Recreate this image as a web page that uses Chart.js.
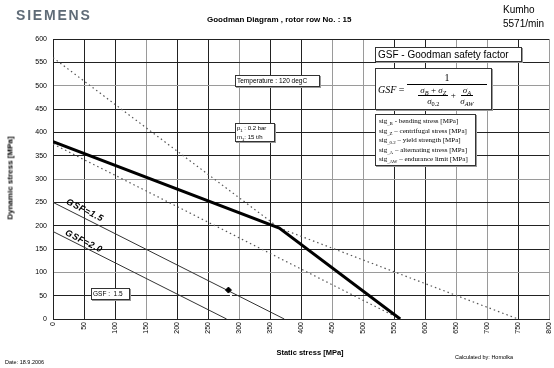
<!DOCTYPE html>
<html>
<head>
<meta charset="utf-8">
<script src="https://cdn.jsdelivr.net/npm/chart.js@4.4.1/dist/chart.umd.min.js"></script>
<style>
  body { margin: 0; background: #fff; }
  #wrap { position: relative; width: 554px; height: 368px; overflow: hidden; font-family: "Liberation Sans", Arial, sans-serif; }
  #c { position: absolute; left: 0; top: 0; }
  .txt { position: absolute; white-space: nowrap; color: #000; }
  .box { position: absolute; background: #fff; border: 1px solid #333; box-shadow: 1px 1px 0 #999; white-space: nowrap; }
  .serif { font-family: "Liberation Serif", "Times New Roman", serif; }
  .frac { display: inline-flex; flex-direction: column; align-items: center; vertical-align: middle; }
  .frac > .num { border-bottom: 1px solid #000; padding: 0 2px; }
  .frac > .den { padding: 0 2px; }
  sub { font-size: 70%; vertical-align: -2px; line-height: 0; }
</style>
</head>
<body>
<div id="wrap">
  <canvas id="c" width="554" height="368"></canvas>

  <!-- cabeçalho -->
  <div class="txt" style="left:16px;top:7px;font-size:14px;font-weight:bold;color:#5f6b77;letter-spacing:1.8px;">SIEMENS</div>
  <div class="txt" style="left:207px;top:15px;font-size:8px;font-weight:bold;">Goodman Diagram , rotor row No. : 15</div>
  <div class="txt" style="left:503px;top:4px;font-size:10px;">Kumho</div>
  <div class="txt" style="left:503px;top:18px;font-size:10px;">5571/min</div>

  <!-- títulos dos eixos -->
  <div class="txt" style="left:10px;top:178px;font-size:8px;font-weight:bold;transform:translate(-50%,-50%) rotate(-90deg);">Dynamic stress [MPa]</div>
  <div class="txt" style="left:310px;top:352px;font-size:7.5px;font-weight:bold;transform:translate(-50%,-50%);">Static stress [MPa]</div>
  <div class="txt" style="left:5px;top:359px;font-size:5.5px;">Date: 18.9.2006</div>
  <div class="txt" style="left:455px;top:354px;font-size:5.5px;">Calculated by: Homolka</div>

  <!-- anotações dentro do gráfico -->
  <div class="box" style="left:235px;top:75px;width:82px;height:10px;font-size:6.5px;line-height:10px;padding-left:1px;">Temperature : 120 degC</div>
  <div class="box" style="left:235px;top:123px;width:37px;height:17px;font-size:6px;line-height:8.5px;padding-left:1px;">p<sub>1</sub> : 0.2 bar<br>m<sub>1</sub>: 15 t/h</div>
  <div class="box" style="left:91px;top:288px;width:36px;height:10px;font-size:6.5px;line-height:10px;padding-left:1px;">GSF :&nbsp; 1.5</div>

  <div class="box" style="left:375px;top:47px;width:143px;height:13px;font-size:10px;line-height:13px;padding-left:2px;">GSF - Goodman safety factor</div>
  <div class="box serif" style="left:375px;top:68px;width:115px;height:40px;font-size:10px;">
    <div style="position:absolute;left:2px;top:0;height:40px;display:flex;align-items:center;">
      <i>GSF</i>&nbsp;=&nbsp;
      <span class="frac">
        <span class="num" style="width:76px;text-align:center;line-height:12px;">1</span>
        <span class="den" style="line-height:10px;">
          <span class="frac" style="font-size:9px;"><span class="num"><i>σ</i><sub><i>B</i></sub> + <i>σ</i><sub><i>Z</i></sub></span><span class="den"><i>σ</i><sub>0.2</sub></span></span>
          <span style="font-size:9px;">+</span>
          <span class="frac" style="font-size:9px;"><span class="num"><i>σ</i><sub><i>A</i></sub></span><span class="den"><i>σ</i><sub><i>AW</i></sub></span></span>
        </span>
      </span>
    </div>
  </div>
  <div class="box serif" style="left:375px;top:114px;width:101px;height:52px;font-size:7px;line-height:9.6px;padding:2px 0 0 3px;box-sizing:border-box;">
    sig<sub>_B</sub> - bending stress [MPa]<br>
    sig<sub>_Z</sub> – centrifugal stress [MPa]<br>
    sig<sub>_0.2</sub> – yield strength [MPa]<br>
    sig<sub>_A</sub> – alternating stress [MPa]<br>
    sig<sub>_AW</sub> – endurance limit [MPa]
  </div>

  <div class="txt" style="left:85px;top:210px;font-size:9px;font-weight:bold;font-style:italic;letter-spacing:0.6px;transform:translate(-50%,-50%) rotate(27deg);">GSF=1.5</div>
  <div class="txt" style="left:84px;top:241px;font-size:9px;font-weight:bold;font-style:italic;letter-spacing:0.6px;transform:translate(-50%,-50%) rotate(27deg);">GSF=2.0</div>
</div>

<script>
const goodmanLimit = [[0, 380], [365, 195], [560, 0]];   // linha grossa GSF = 1
const yieldLine = [[0, 560], [365, 195]];                // pontilhada (escoamento)
const goodmanExtension = [[365, 195], [750, 0]];         // pontilhada (Goodman)
const baseLine = [[0, 375], [560, 0]];                   // pontilhada inferior
const gsf15Line = [[0, 250], [373, 0]];
const gsf20Line = [[0, 187.5], [280, 0]];
const operatingPoint = [[283, 62]];
const pointGap = [[287, 0], [287, 54]];

const xTicks = [0, 50, 100, 150, 200, 250, 300, 350, 400, 450, 500, 550, 600, 650, 700, 750, 800];
const yTicks = [0, 50, 100, 150, 200, 250, 300, 350, 400, 450, 500, 550, 600];

// 🎨 estilos da grade (algumas linhas aparecem mais claras na imagem)
const lightX = [150, 300, 450, 500, 650, 700, 800];
const lightY = [500, 300, 100];

const pts = arr => arr.map(p => ({ x: p[0], y: p[1] }));

function lineSet(data, color, width, dash) {
    return {
        data: pts(data),
        showLine: true,
        borderColor: color,
        borderWidth: width,
        borderDash: dash || [],
        pointRadius: 0,
        fill: false,
        tension: 0
    };
}

const datasets = [
    {
        data: pts(operatingPoint),
        pointStyle: 'rectRot',
        pointRadius: 3,
        backgroundColor: '#000',
        borderColor: '#000',
        showLine: false
    },
    lineSet(pointGap, '#fff', 2),
    lineSet(goodmanLimit, '#000', 3),
    lineSet(yieldLine, '#555', 1.2, [1.5, 3]),
    lineSet(goodmanExtension, '#555', 1.2, [1.5, 3]),
    lineSet(baseLine, '#555', 1.2, [1.5, 3]),
    lineSet(gsf15Line, '#333', 1),
    lineSet(gsf20Line, '#333', 1)
];

const chart = new Chart(document.getElementById('c'), {
    type: 'scatter',
    data: { datasets },
    options: {
        responsive: false,
        animation: false,
        devicePixelRatio: 1,
        layout: { padding: { top: 39, right: -3, left: 0, bottom: 0 } },
        plugins: { legend: { display: false }, tooltip: { enabled: false } },
        scales: {
            x: {
                type: 'linear',
                min: 0,
                max: 800,
                afterBuildTicks: s => { s.ticks = xTicks.map(v => ({ value: v })); },
                afterFit: s => { s.height = 49; s.paddingLeft = 0; s.paddingRight = 0; },
                ticks: {
                    font: { size: 7, family: 'Liberation Sans' },
                    color: '#000',
                    minRotation: 90,
                    maxRotation: 90,
                    padding: 3
                },
                grid: {
                    drawTicks: false,
                    color: c => lightX.includes(c.tick && c.tick.value) ? '#9a9a9a' : '#222',
                    lineWidth: 1
                },
                border: { color: '#222' }
            },
            y: {
                type: 'linear',
                min: 0,
                max: 600,
                afterBuildTicks: s => { s.ticks = yTicks.map(v => ({ value: v })); },
                afterFit: s => { s.width = 53; s.paddingTop = 0; s.paddingBottom = 0; },
                ticks: {
                    font: { size: 7, family: 'Liberation Sans' },
                    color: '#000',
                    padding: 6
                },
                grid: {
                    drawTicks: false,
                    color: c => lightY.includes(c.tick && c.tick.value) ? '#9a9a9a' : '#222',
                    lineWidth: 1
                },
                border: { color: '#222' }
            }
        }
    }
});
</script>
</body>
</html>
